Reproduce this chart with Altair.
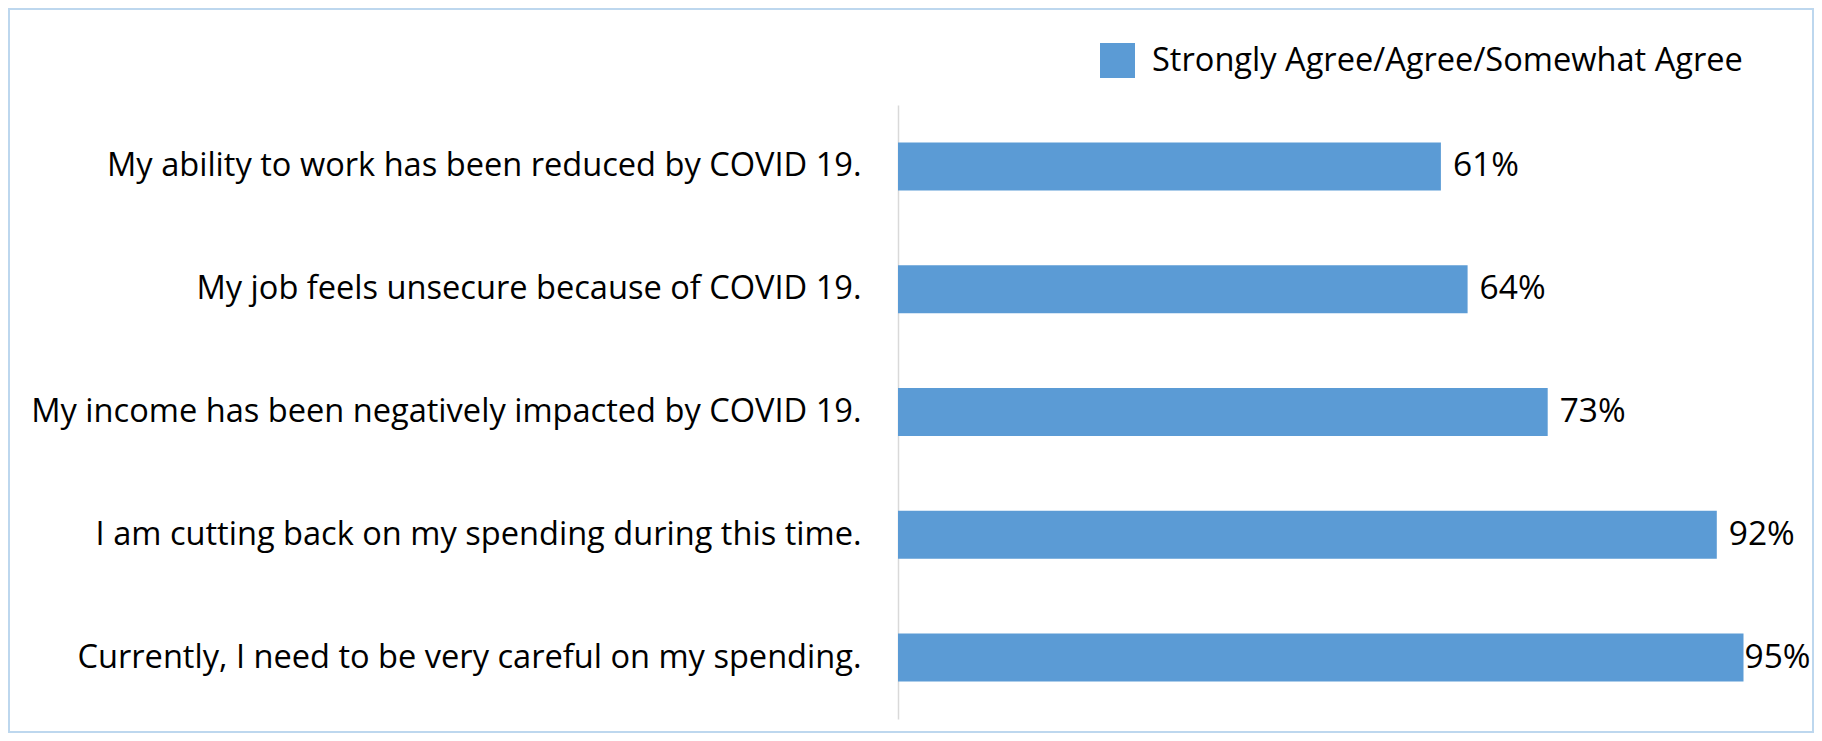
import altair as alt
import pandas as pd

statements = [
    "My ability to work has been reduced by COVID 19.",
    "My job feels unsecure because of COVID 19.",
    "My income has been negatively impacted by COVID 19.",
    "I am cutting back on my spending during this time.",
    "Currently, I need to be very careful on my spending.",
]
agree_pct = [61, 64, 73, 92, 95]
series_name = "Strongly Agree/Agree/Somewhat Agree"

FONT = "Open Sans"
LABEL_SIZE = 32.6
VALUE_SIZE = 33.5
BAR_COLOR = "#5B9BD5"

df = pd.DataFrame({
    "statement": statements,
    "value": agree_pct,
    "series": [series_name] * len(statements),
})
df["label"] = [f"{v}%" for v in agree_pct]

y_enc = alt.Y(
    "statement:N",
    sort=statements,
    scale=alt.Scale(domain=statements, paddingInner=0.61, paddingOuter=0.305),
    axis=alt.Axis(
        title=None,
        domain=True,
        domainColor="#D9D9D9",
        domainWidth=1.5,
        ticks=False,
        grid=False,
        labelPadding=37,
        labelFont=FONT,
        labelFontSize=LABEL_SIZE,
        labelColor="#000000",
        labelLimit=0,
    ),
)
x_scale = alt.Scale(domain=[0, 100], nice=False, zero=True)

base = alt.Chart(df)

bars = base.mark_bar(size=48).encode(
    y=y_enc,
    x=alt.X("value:Q", scale=x_scale, axis=None),
    color=alt.Color(
        "series:N",
        scale=alt.Scale(range=[BAR_COLOR]),
        legend=alt.Legend(
            title=None,
            orient="none",
            legendX=202,
            legendY=-62,
            symbolType="square",
            symbolSize=1225,
            symbolStrokeWidth=0,
            labelFont=FONT,
            labelFontSize=LABEL_SIZE,
            labelColor="#000000",
            labelOffset=17,
            labelLimit=0,
            padding=0,
        ),
    ),
)

labels_near = base.transform_filter("datum.value < 94").mark_text(
    align="left", baseline="middle", dx=12, font=FONT, fontSize=VALUE_SIZE, color="#000000"
).encode(y=y_enc, x=alt.X("value:Q", scale=x_scale, axis=None), text="label:N")

labels_edge = base.transform_filter("datum.value >= 94").mark_text(
    align="left", baseline="middle", dx=1, font=FONT, fontSize=VALUE_SIZE, color="#000000"
).encode(y=y_enc, x=alt.X("value:Q", scale=x_scale, axis=None), text="label:N")

frame = alt.Chart(pd.DataFrame({"f": [0]})).mark_rect(
    filled=False, stroke="#BDD7EE", strokeWidth=2
).encode(
    x=alt.value(-889), x2=alt.value(915), y=alt.value(-96), y2=alt.value(627)
)

chart = alt.layer(frame, bars, labels_near, labels_edge).properties(
    width=890,
    height=614,
    padding={"left": 890, "top": 97, "right": 26, "bottom": 14},
    autosize=alt.AutoSizeParams(type="none"),
    background="#FFFFFF",
).configure_view(stroke="transparent", strokeWidth=0)

chart.save("out.html", embed_options={"renderer": "svg", "actions": False})
